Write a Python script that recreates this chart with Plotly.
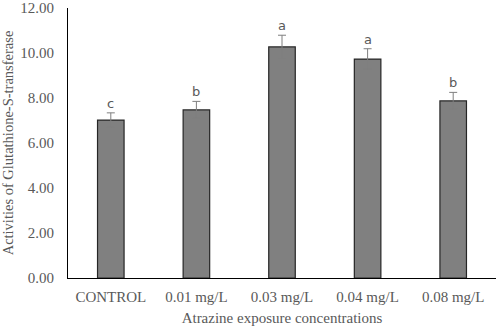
import plotly.graph_objects as go

categories = ["CONTROL", "0.01 mg/L", "0.03 mg/L", "0.04 mg/L", "0.08 mg/L"]
values = [7.02, 7.47, 10.27, 9.73, 7.87]
errors = [0.32, 0.38, 0.52, 0.46, 0.38]
letters = ["c", "b", "a", "a", "b"]

fig = go.Figure()
fig.add_trace(go.Bar(
    x=categories, y=values,
    marker=dict(color="#808080", line=dict(color="#262626", width=1.2)),
    error_y=dict(type="data", array=errors, color="#7f7f7f", thickness=1, width=4),
))

for c, v, e, l in zip(categories, values, errors, letters):
    fig.add_annotation(x=c, y=v + e, text=l, showarrow=False, yanchor="bottom",
                       yshift=0, font=dict(family="DejaVu Sans", size=13, color="#595959"))

font_serif = "Liberation Serif, Times New Roman, serif"
fs = 15
fig.update_layout(
    width=498, height=328,
    margin=dict(l=68, r=2, t=8, b=50),
    plot_bgcolor="white", paper_bgcolor="white",
    bargap=0.69,
    showlegend=False,
    font=dict(family=font_serif, size=fs, color="#595959"),
    xaxis=dict(showline=True, linecolor="#000000", linewidth=1.2, ticks="",
               showgrid=False, automargin=False, ticklabelstandoff=5,
               title=dict(text="Atrazine exposure concentrations", standoff=8,
                          font=dict(family=font_serif, size=fs, color="#595959")),
               tickfont=dict(family=font_serif, size=fs, color="#595959")),
    yaxis=dict(range=[0, 12], dtick=2, tickformat=".2f", showline=True,
               linecolor="#000000", linewidth=1.2, showgrid=False, zeroline=False,
               ticks="", ticklen=0, automargin=False, ticklabelstandoff=10,
               title=dict(text="Activities of Glutathione-S-transferase", standoff=6,
                          font=dict(family=font_serif, size=14.5, color="#595959")),
               tickfont=dict(family=font_serif, size=fs, color="#595959")),
)

fig.write_html("out.html", post_script="document.body.style.margin='0';",
               config={"displayModeBar": False})
